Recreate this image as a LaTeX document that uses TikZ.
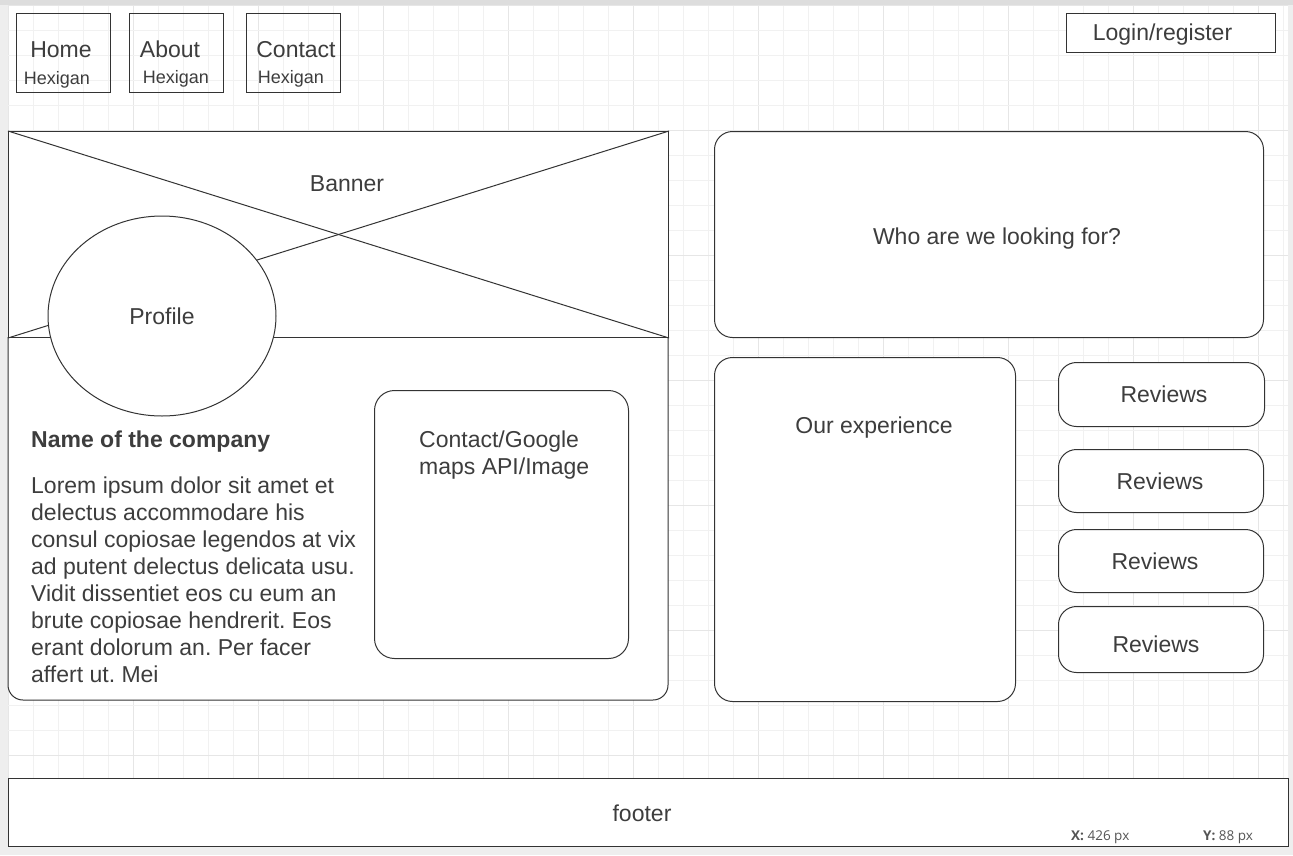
\documentclass[tikz,border=0pt]{standalone}
\usepackage{fontspec}
\setmainfont{Liberation Sans}
\newfontfamily\uifont{Open Sans}
\usetikzlibrary{shapes.geometric}
\frenchspacing
\definecolor{ink}{HTML}{333333}
\definecolor{txt}{HTML}{3D3D3D}
\definecolor{gridlt}{HTML}{F1F1F1}
\definecolor{griddk}{HTML}{E6E6E6}
\definecolor{edgegray}{HTML}{EEEEEE}
\definecolor{topgray}{HTML}{DDDDDD}
\definecolor{uitxt}{HTML}{555555}
\tikzset{
  box/.style={draw=ink, line width=1pt, rectangle, anchor=north west, inner sep=0pt},
  wbox/.style={box, fill=white},
  rbox/.style={box, fill=white, rounded corners=18pt},
  big/.style={font=\fontsize{23}{27}\selectfont, text=txt, inner sep=0pt},
  small/.style={font=\fontsize{18}{21}\selectfont, text=txt, inner sep=0pt},
  ui/.style={font=\uifont\fontsize{13.5}{15}\selectfont, text=uitxt, inner sep=0pt, anchor=base west},
}
\begin{document}
\begin{tikzpicture}[x=1pt,y=-1pt]
\useasboundingbox (0,0) rectangle (1293,855);
% canvas
\fill[edgegray] (0,0) rectangle (1293,855);
\fill[topgray] (0,0) rectangle (1293,5);
\fill[white] (8,5) rectangle (1288,846);
% grid
\foreach \k in {0,...,51}{
  \pgfmathtruncatemacro{\m}{mod(\k,5)}
  \ifnum\m=0 \def\gc{griddk}\else\def\gc{gridlt}\fi
  \draw[\gc, line width=1pt] (8+25*\k,5) -- (8+25*\k,846);
}
\foreach \k in {0,...,33}{
  \pgfmathtruncatemacro{\m}{mod(\k,5)}
  \ifnum\m=0 \def\gc{griddk}\else\def\gc{gridlt}\fi
  \draw[\gc, line width=1pt] (8,5+25*\k) -- (1288,5+25*\k);
}
% navigation
\node[box, minimum width=94pt, minimum height=79pt] (home) at (16,13) {};
\node[box, minimum width=94pt, minimum height=79pt] (about) at (129,13) {};
\node[box, minimum width=94pt, minimum height=79pt] (contact) at (246,13) {};
\node[big, anchor=base] (homet) at (61,57) {Home};
\node[big, anchor=base] (aboutt) at (170,57) {About};
\node[big, anchor=base] (contactt) at (296,57) {Contact};
\node[small, anchor=base] (homes) at (57,84) {Hexigan};
\node[small, anchor=base] (abouts) at (176,83) {Hexigan};
\node[small, anchor=base] (contacts) at (291,83) {Hexigan};
\node[wbox, minimum width=209pt, minimum height=39pt] (login) at (1066,13) {};
\node[big, anchor=base] (logint) at (1162.5,40) {Login/register};
% left panel
\filldraw[fill=white, draw=ink, line width=1pt, rounded corners=15pt] (8,337) -- (8,700) -- (668,700) -- (668,337);
\node[wbox, minimum width=660pt, minimum height=206pt] (banner) at (8,131) {};
\draw[ink, line width=1pt] (banner.north west) -- (banner.south east);
\draw[ink, line width=1pt] (banner.south west) -- (banner.north east);
\node[big, anchor=base] (bannert) at (347,191) {Banner};
\node[draw=ink, fill=white, line width=1pt, ellipse, minimum width=228pt, minimum height=200pt, inner sep=0pt] (profile) at (162,316) {};
\node[big, anchor=base] (profilet) at (162,324) {Profile};
\node[big, font=\fontsize{23}{27}\selectfont\bfseries, anchor=base west] (name) at (31,447) {Name of the company};
\node[big, anchor=north west, align=left] (lorem) at (31,476.2) {Lorem ipsum dolor sit amet et\\delectus accommodare his\\consul copiosae legendos at vix\\ad putent delectus delicata usu.\\Vidit dissentiet eos cu eum an\\brute copiosae hendrerit. Eos\\erant dolorum an. Per facer\\affert ut. Mei};
\node[rbox, rounded corners=20pt, minimum width=254pt, minimum height=268pt] (maps) at (374,390) {};
\node[big, anchor=north west, align=left] (mapst) at (419,430.2) {Contact/Google\\maps API/Image};
% right column
\node[rbox, minimum width=549pt, minimum height=206pt] (who) at (714,131) {};
\node[big, anchor=base] (whot) at (997,244) {Who are we looking for?};
\node[rbox, minimum width=301pt, minimum height=344pt] (exp) at (714,357) {};
\node[big, anchor=base] (expt) at (874,433) {Our experience};
\node[rbox, minimum width=206pt, minimum height=64pt] (rev1) at (1058,362) {};
\node[rbox, minimum width=205pt, minimum height=63pt] (rev2) at (1058,449) {};
\node[rbox, minimum width=205pt, minimum height=63pt] (rev3) at (1058,529) {};
\node[rbox, minimum width=205pt, minimum height=66pt] (rev4) at (1058,606) {};
\node[big, anchor=base] (rev1t) at (1164,402) {Reviews};
\node[big, anchor=base] (rev2t) at (1160,489) {Reviews};
\node[big, anchor=base] (rev3t) at (1155,569) {Reviews};
\node[big, anchor=base] (rev4t) at (1156,652) {Reviews};
% footer
\node[wbox, minimum width=1280pt, minimum height=68pt] (footer) at (8,778) {};
\node[big, anchor=base] (footert) at (642,821) {footer};
\node[ui] (xpos) at (1071,840) {\textbf{X:} 426 px};
\node[ui] (ypos) at (1203,840) {\textbf{Y:} 88 px};
\end{tikzpicture}
\end{document}
